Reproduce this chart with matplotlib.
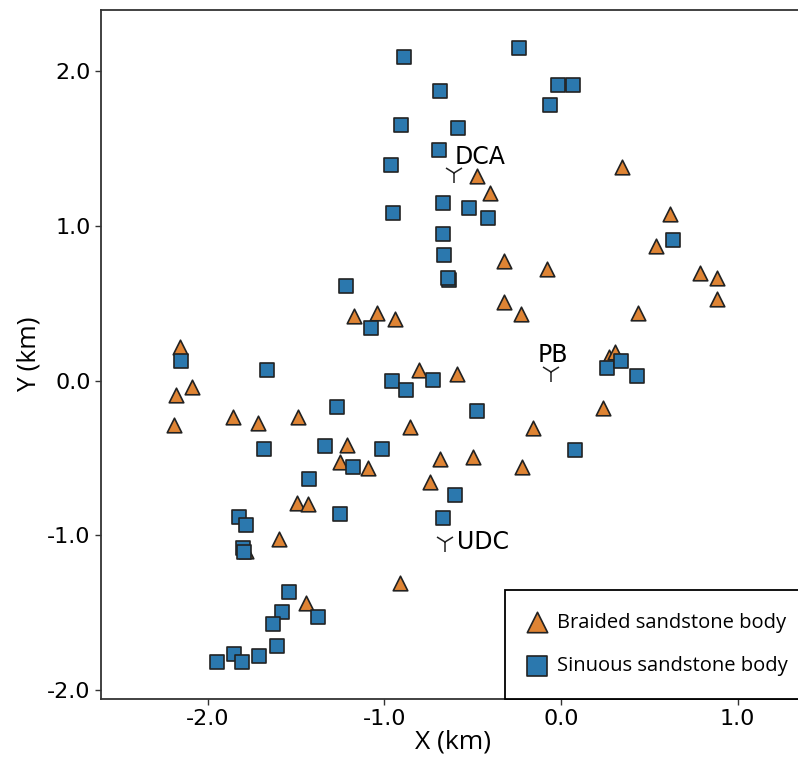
import matplotlib
matplotlib.use('Agg')
import matplotlib.pyplot as plt

# Braided sandstone bodies (triangles), X / Y in km
braided_x = [-0.475, -0.402, -0.324, -0.079, 0.343, 0.617, 0.539, 0.785, 0.881, 0.885,
             0.436, 0.272, 0.307, -0.324, -0.226, -1.040, -0.938, -0.802, -0.590, -0.853,
             -0.158, 0.236, -0.683, -0.496, -0.223, -0.740, -1.094, -1.170, -2.156, -2.088,
             -2.180, -2.190, -1.855, -1.717, -1.490, -1.213, -1.251, -1.492, -1.430, -1.594,
             -1.445, -0.911, -1.780]
braided_y = [1.323, 1.213, 0.774, 0.720, 1.381, 1.078, 0.867, 0.692, 0.662, 0.528,
             0.438, 0.154, 0.184, 0.505, 0.428, 0.436, 0.395, 0.068, 0.042, -0.298,
             -0.305, -0.180, -0.509, -0.492, -0.557, -0.658, -0.567, 0.419, 0.214, -0.042,
             -0.092, -0.290, -0.234, -0.277, -0.234, -0.417, -0.524, -0.789, -0.800, -1.026,
             -1.437, -1.308, -1.100]

# Sinuous sandstone bodies (squares)
sinuous_x = [-0.887, -0.237, -0.015, 0.066, -0.060, -0.685, -0.905, -0.585, -0.690, -0.962,
             -0.670, -0.520, -0.411, -0.953, -0.666, -0.662, -0.632, -0.640, -1.217, -1.074,
             -2.149, -1.662, -0.955, -1.266, -1.679, -1.337, -1.011, -1.175, -1.428, -0.877,
             -0.726, -0.477, -0.598, 0.079, 0.259, 0.340, 0.430, 0.632, -0.666, -1.249,
             -1.822, -1.785, -1.800, -1.792, -1.537, -1.577, -1.373, -1.628, -1.605, -1.949,
             -1.849, -1.805, -1.711]
sinuous_y = [2.090, 2.150, 1.910, 1.910, 1.780, 1.870, 1.650, 1.630, 1.489, 1.392,
             1.149, 1.112, 1.052, 1.080, 0.946, 0.809, 0.650, 0.660, 0.612, 0.337,
             0.126, 0.070, 0.000, -0.173, -0.444, -0.423, -0.440, -0.561, -0.638, -0.061,
             0.005, -0.200, -0.740, -0.449, 0.082, 0.124, 0.031, 0.910, -0.890, -0.860,
             -0.880, -0.931, -1.080, -1.108, -1.366, -1.493, -1.526, -1.573, -1.717, -1.817,
             -1.765, -1.820, -1.780]

# Wells
well_names = ['DCA', 'PB', 'UDC']
well_x = [-0.606, -0.057, -0.656]
well_y = [1.338, 0.057, -1.041]

fig = plt.figure(figsize=(7.98, 7.6), dpi=100)
ax = fig.add_axes([101 / 798, 61 / 760, 704 / 798, 689 / 760])

orange = '#df8434'
blue = '#2b78ae'

ax.scatter(braided_x, braided_y, marker='^', s=110, c=orange, edgecolors='#222222',
           linewidths=1.2, label='Braided sandstone body', zorder=2)
ax.scatter(sinuous_x, sinuous_y, marker='s', s=100, c=blue, edgecolors='#222222',
           linewidths=1.2, label='Sinuous sandstone body', zorder=3)

ax.plot(well_x, well_y, linestyle='none', marker='1', markersize=14, mew=1.1,
        color='#222222', zorder=4)
ax.text(well_x[0] + 0.005, well_y[0] + 0.06, well_names[0], fontsize=17,
        ha='left', va='baseline', family='DejaVu Sans')
ax.text(well_x[1] + 0.01, well_y[1] + 0.11, well_names[1], fontsize=17,
        ha='center', va='center', family='DejaVu Sans')
ax.text(well_x[2] + 0.065, well_y[2], well_names[2], fontsize=17,
        ha='left', va='center', family='DejaVu Sans')

ax.set_xlim(-2.603, 1.381)
ax.set_ylim(-2.057, 2.393)
ax.set_xticks([-2.0, -1.0, 0.0, 1.0])
ax.set_yticks([-2.0, -1.0, 0.0, 1.0, 2.0])
ax.set_xticklabels(['-2.0', '-1.0', '0.0', '1.0'])
ax.set_yticklabels(['-2.0', '-1.0', '0.0', '1.0', '2.0'])
ax.tick_params(labelsize=16, length=4, width=1, color='#333333')
for sp in ax.spines.values():
    sp.set_linewidth(1.3)
    sp.set_color('#333333')

ax.set_xlabel('X (km)', fontsize=19, family='Open Sans', labelpad=0)
ax.set_ylabel('Y (km)', fontsize=19, family='Open Sans', labelpad=4)

# legend sits on the bottom spine and runs past the right edge of the figure
leg = ax.legend(loc='lower right', bbox_to_anchor=(1 + 6 / 704, 0), borderaxespad=0,
                markerscale=1.4, prop={'family': 'Open Sans', 'size': 14.5},
                fancybox=False, edgecolor='black', framealpha=1, borderpad=1.15,
                labelspacing=1.15, handletextpad=0.55, handlelength=0.9)
leg.get_frame().set_linewidth(1.3)

fig.savefig('out.png', dpi=100)
